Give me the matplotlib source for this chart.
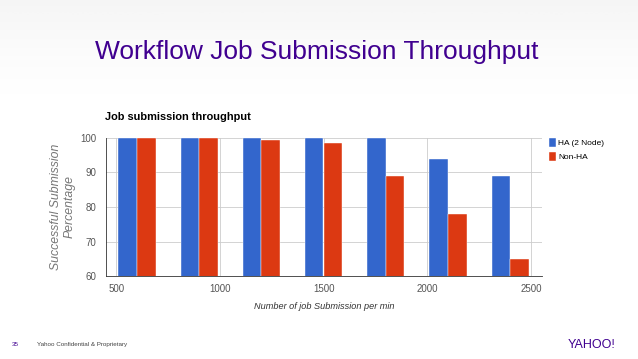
import matplotlib.pyplot as plt
import numpy as np

plt.rcParams['font.family'] = ['Liberation Sans', 'DejaVu Sans']

# data
rates = [600, 900, 1200, 1500, 1800, 2100, 2400]
ha_2node = [100, 100, 100, 100, 100, 94, 89]
non_ha = [100, 100, 99.5, 98.6, 89, 78, 65]
x_ticks = [500, 1000, 1500, 2000, 2500]
y_ticks = [60, 70, 80, 90, 100]

blue = '#3366cc'
red = '#dc3912'
purple = '#400090'


def main():
    fig = plt.figure(figsize=(6.38, 3.59), dpi=100)
    fig.patch.set_facecolor('white')

    # light grey fade at the top of the slide
    bg = fig.add_axes([0, 0.70, 1, 0.30], zorder=-1)
    shade = np.linspace(1.0, 0.0, 100).reshape(-1, 1) ** 1.5
    bg.imshow(shade, aspect='auto', cmap='Greys', vmin=0, vmax=12,
              extent=[0, 1, 0, 1], origin='upper')
    bg.axis('off')

    # slide title and footer
    fig.text(0.497, 0.855, 'Workflow Job Submission Throughput', color=purple,
             fontsize=19, ha='center', va='center')
    fig.text(0.019, 0.04, '35', color=purple, fontsize=4.5, va='center')
    fig.text(0.058, 0.04, 'Yahoo Confidential & Proprietary', color='#444444',
             fontsize=4.5, va='center')
    fig.text(0.965, 0.04, 'YAHOO!', color=purple, fontsize=9, ha='right',
             va='center')

    ax = fig.add_axes([0.166, 0.231, 0.683, 0.385])
    w = 89
    x = np.array(rates)
    ax.bar(x - w / 2 - 0.5, ha_2node, width=w, color=blue, label='HA (2 Node)',
           zorder=3, edgecolor='white', linewidth=0.3)
    ax.bar(x + w / 2 + 0.5, non_ha, width=w, color=red, label='Non-HA',
           zorder=3, edgecolor='white', linewidth=0.3)

    ax.set_xlim(450, 2552)
    ax.set_ylim(60, 100)
    ax.set_xticks(x_ticks)
    ax.set_yticks(y_ticks)
    ax.tick_params(length=0, labelsize=7, colors='#555555')
    ax.tick_params(axis='y', pad=7)
    ax.tick_params(axis='x', pad=6)
    ax.grid(True, color='#cccccc', linewidth=0.6, zorder=0)
    for s in ['top', 'right']:
        ax.spines[s].set_visible(False)
    ax.spines['left'].set_color('#333333')
    ax.spines['left'].set_linewidth(0.6)
    ax.spines['bottom'].set_color('#333333')
    ax.spines['bottom'].set_linewidth(0.6)

    ax.set_title('Job submission throughput', loc='left', fontsize=7.9,
                 fontweight='bold', pad=12.5, x=-0.002)
    ax.set_xlabel('Number of job Submission per min', fontsize=6.6,
                  style='italic', color='#333333', labelpad=5.5)
    ax.set_ylabel('Successful Submission\nPercentage', fontsize=8.8,
                  style='italic', color='#777777', labelpad=3.2,
                  linespacing=1.2)

    ax.legend(loc='upper left', bbox_to_anchor=(1.005, 1.035), frameon=False,
              fontsize=6, handlelength=0.8, handleheight=1.2,
              handletextpad=0.3, labelspacing=0.6, borderaxespad=0.2)

    fig.savefig('out.png', dpi=100)


if __name__ == '__main__':
    main()
